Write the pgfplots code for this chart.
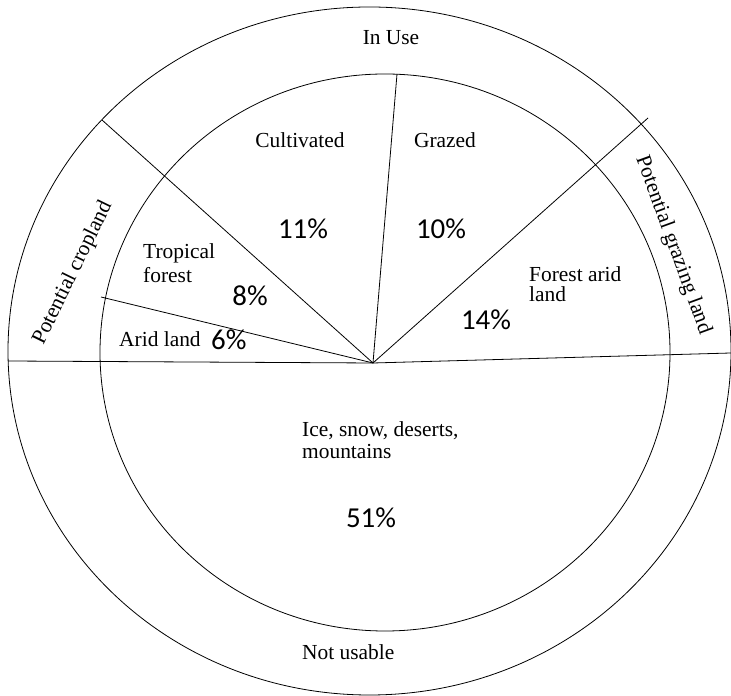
\documentclass[border=0pt]{standalone}
\usepackage{pgfplots}
\pgfplotsset{compat=1.18}
\usepackage{fontspec}
\setmainfont{Liberation Serif}
\newfontfamily\pct{Carlito}
\begin{document}
\begin{tikzpicture}
\begin{axis}[
  scale only axis, width=731bp, height=696bp,
  xmin=0, xmax=731, ymin=0, ymax=696,
  hide axis, clip=false,
]
% outer and inner rings
\draw[black, line width=0.8bp] (axis cs:369.5,345) ellipse [x radius=361.5, y radius=344];
\draw[black, line width=0.8bp] (axis cs:385,343.5) ellipse [x radius=285, y radius=278.5];
% sector boundaries (from centre)
\addplot[black, line width=0.8bp] coordinates {(373,333) (101,399)};
\addplot[black, line width=0.8bp] coordinates {(373,333) (102,576)};
\addplot[black, line width=0.8bp] coordinates {(373,333) (397,622)};
\addplot[black, line width=0.8bp] coordinates {(373,333) (648,578)};
\addplot[black, line width=0.8bp] coordinates {(373,333) (8,335)};
\addplot[black, line width=0.8bp] coordinates {(373,333) (731,343)};
% labels
\tikzset{lab/.style={font=\fontsize{21.5}{23}\selectfont, inner sep=0pt}}
\tikzset{pc/.style={font=\pct\fontsize{29}{31}\selectfont, inner sep=0pt}}
\node[lab, anchor=base] at (axis cs:391,651) {In Use};
\node[lab, anchor=base] at (axis cs:300,548) {Cultivated};
\node[lab, anchor=base] at (axis cs:445,548) {Grazed};
\node[pc, anchor=base] at (axis cs:303,457) {11\%};
\node[pc, anchor=base] at (axis cs:441,457) {10\%};
\node[lab, anchor=base west] at (axis cs:143,437) {Tropical};
\node[lab, anchor=base west] at (axis cs:143,413) {forest};
\node[pc, anchor=base] at (axis cs:250,390) {8\%};
\node[lab, anchor=base west] at (axis cs:119,349) {Arid land};
\node[pc, anchor=base west] at (axis cs:211,346) {6\%};
\node[lab, anchor=base west] at (axis cs:529,414) {Forest arid};
\node[lab, anchor=base west] at (axis cs:529,394) {land};
\node[pc, anchor=base] at (axis cs:486,366) {14\%};
\node[lab, anchor=base west] at (axis cs:302,259) {Ice, snow, deserts,};
\node[lab, anchor=base west] at (axis cs:302,237) {mountains};
\node[pc, anchor=base] at (axis cs:371,168) {51\%};
\node[lab, anchor=base west] at (axis cs:302,36) {Not usable};
\node[lab, rotate=64] at (axis cs:73,423) {Potential cropland};
\node[lab, rotate=-70] at (axis cs:673,451) {Potential grazing land};
\end{axis}
\pgfresetboundingbox
\path (current axis.south west) rectangle (current axis.north east);
\end{tikzpicture}
\end{document}
